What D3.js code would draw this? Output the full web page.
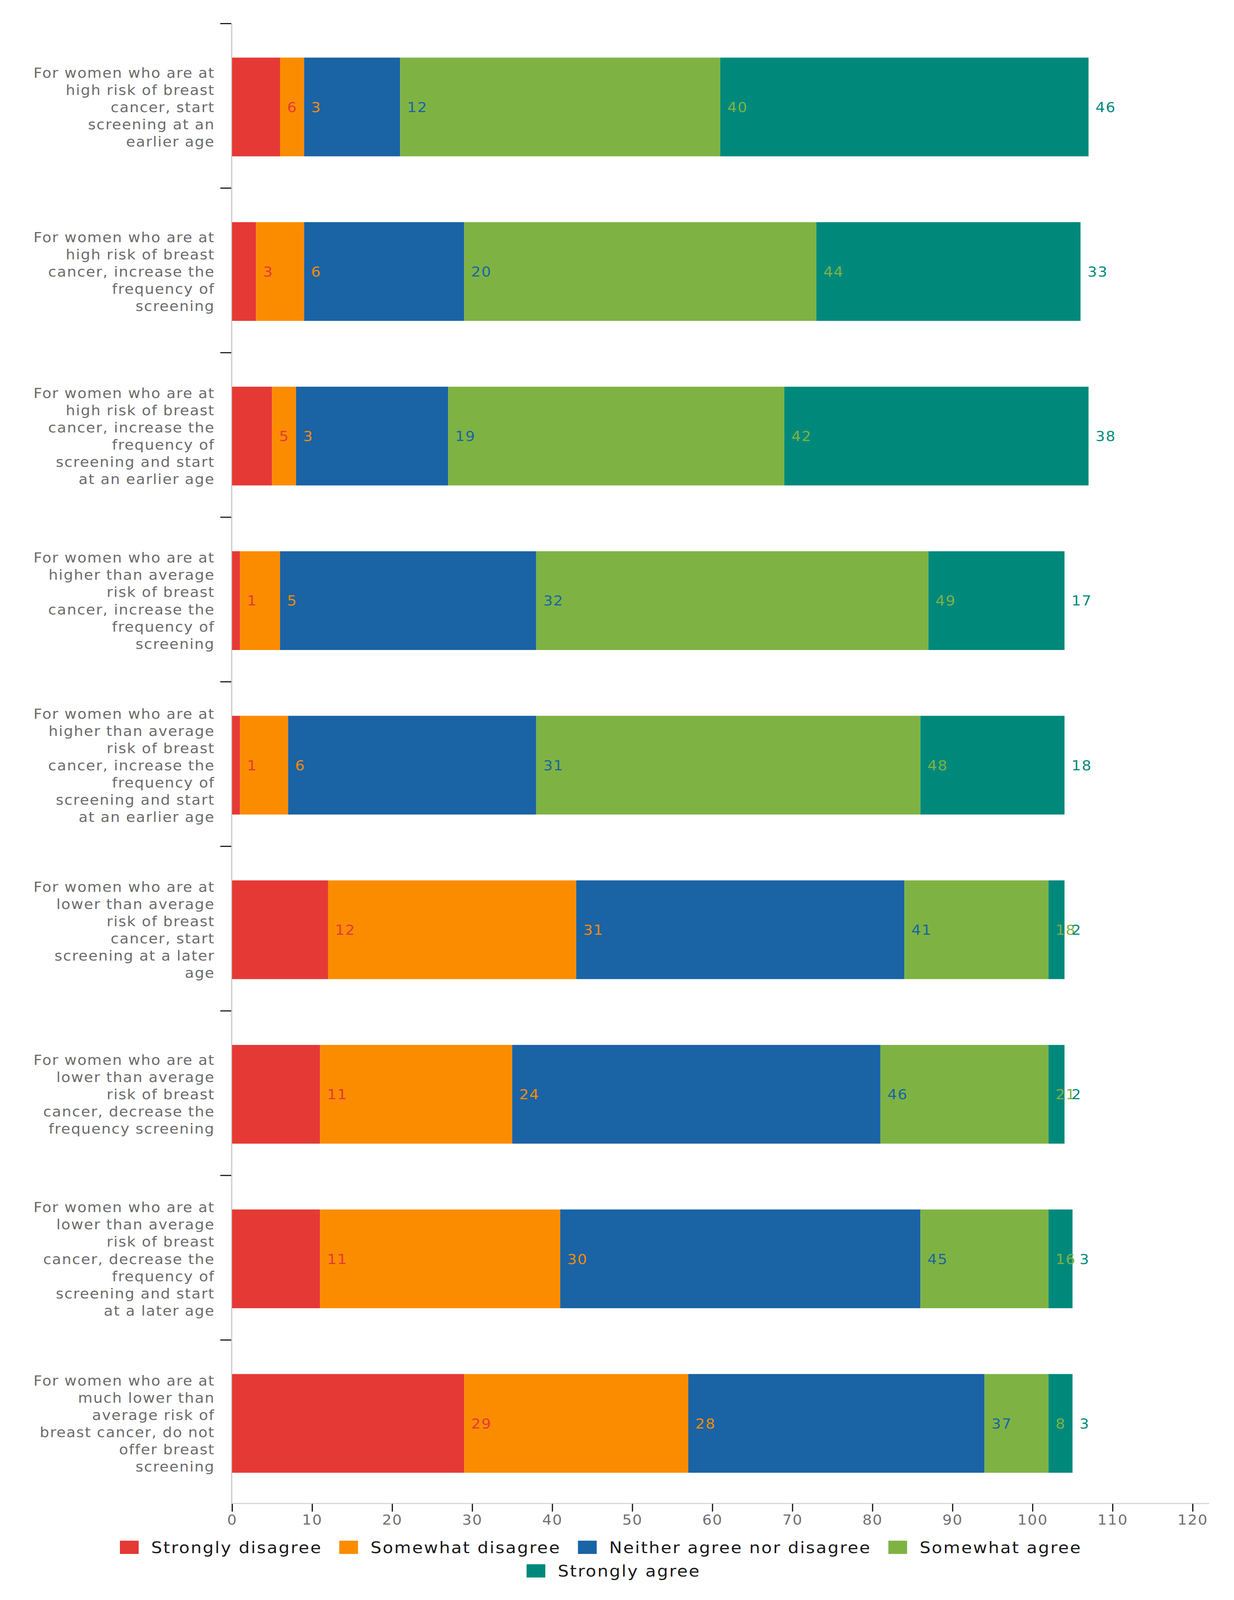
<!DOCTYPE html>
<html>
<head>
<meta charset="utf-8">
<script src="https://cdn.jsdelivr.net/npm/d3@7"></script>
<style>
  html, body { margin: 0; padding: 0; background: #fff; overflow: hidden; }
  svg { display: block; width: 100vw; height: 100vh; }
  text { font-family: "DejaVu Sans", sans-serif; }
</style>
</head>
<body>
<script>
// categories, one label per bar (lines split on "|")
var categories = [
    "For women who are at|high risk of breast|cancer, start|screening at an|earlier age",
    "For women who are at|high risk of breast|cancer, increase the|frequency of|screening",
    "For women who are at|high risk of breast|cancer, increase the|frequency of|screening and start|at an earlier age",
    "For women who are at|higher than average|risk of breast|cancer, increase the|frequency of|screening",
    "For women who are at|higher than average|risk of breast|cancer, increase the|frequency of|screening and start|at an earlier age",
    "For women who are at|lower than average|risk of breast|cancer, start|screening at a later|age",
    "For women who are at|lower than average|risk of breast|cancer, decrease the|frequency screening",
    "For women who are at|lower than average|risk of breast|cancer, decrease the|frequency of|screening and start|at a later age",
    "For women who are at|much lower than|average risk of|breast cancer, do not|offer breast|screening"
];

var seriesNames = ["Strongly disagree", "Somewhat disagree", "Neither agree nor disagree", "Somewhat agree", "Strongly agree"];
var seriesColors = ["#e53935", "#fb8c00", "#1a63a5", "#7eb343", "#00897b"];

var stronglyDisagree = [6, 3, 5, 1, 1, 12, 11, 11, 29];
var somewhatDisagree = [3, 6, 3, 5, 6, 31, 24, 30, 28];
var neither          = [12, 20, 19, 32, 31, 41, 46, 45, 37];
var somewhatAgree    = [40, 44, 42, 49, 48, 18, 21, 16, 8];
var stronglyAgree    = [46, 33, 38, 17, 18, 2, 2, 3, 3];

var xTicks = [0, 10, 20, 30, 40, 50, 60, 70, 80, 90, 100, 110, 120];

var W = 3159, H = 4342;
// the drawing is laid out on a 3159x4342 grid and stretched to the window
var svg = d3.select("body").append("svg")
    .attr("viewBox", "0 0 " + W + " " + H)
    .attr("preserveAspectRatio", "none");

var x = d3.scaleLinear().domain([0, 120]).range([594, 3053]);
var y = d3.scaleBand().domain(categories).range([64, 4083])
    .paddingInner(0.4).paddingOuter(0.2);
var barShift = 3;

// build rows for stacking
var series = [stronglyDisagree, somewhatDisagree, neither, somewhatAgree, stronglyAgree];
var rows = categories.map(function(c, i) {
    var r = {cat: c};
    seriesNames.forEach(function(s, j) { r[s] = series[j][i]; });
    return r;
});
var stack = d3.stack().keys(seriesNames)(rows);

// axis lines
svg.append("line")
    .attr("x1", x(0) - 3).attr("x2", 3095)
    .attr("y1", 4080).attr("y2", 4080)
    .attr("stroke", "#d4d4d8").attr("stroke-width", 3);
svg.append("line")
    .attr("x1", x(0) - 1).attr("x2", x(0) - 1)
    .attr("y1", 64).attr("y2", 4080)
    .attr("stroke", "#d4d4d8").attr("stroke-width", 4);

// left ticks at band boundaries
var step = y.step();
svg.append("g").selectAll("line")
    .data(categories)
    .enter().append("line")
    .attr("x1", 564).attr("x2", 592)
    .attr("y1", function(d) { return y(d) - step * 0.2; })
    .attr("y2", function(d) { return y(d) - step * 0.2; })
    .attr("stroke", "#111").attr("stroke-width", 3);

// bars
var layers = svg.append("g").selectAll("g")
    .data(stack)
    .enter().append("g")
    .attr("fill", function(d, i) { return seriesColors[i]; });

layers.selectAll("rect")
    .data(function(d) { return d; })
    .enter().append("rect")
    .attr("x", function(d) { return x(d[0]); })
    .attr("width", function(d) { return x(d[1]) - x(d[0]); })
    .attr("y", function(d) { return y(d.data.cat) + barShift; })
    .attr("height", y.bandwidth());

// value labels just past the end of each segment
stack.forEach(function(layer, i) {
    svg.append("g").selectAll("text")
        .data(layer)
        .enter().append("text")
        .attr("x", function(d) { return x(d[1]) + 18; })
        .attr("y", function(d) { return y(d.data.cat) + barShift + y.bandwidth() / 2; })
        .attr("dy", "0.36em")
        .attr("font-size", 38)
        .attr("letter-spacing", 2)
        .attr("fill", seriesColors[i])
        .text(function(d) { return d[1] - d[0]; });
});

// category labels
var lineH = 46.7;
categories.forEach(function(c) {
    var lines = c.split("|");
    var cy = y(c) + barShift + y.bandwidth() / 2;
    var t = svg.append("text")
        .attr("text-anchor", "end")
        .attr("font-size", 38)
        .attr("letter-spacing", 2)
        .attr("fill", "#6b6b6b");
    lines.forEach(function(l, k) {
        t.append("tspan")
            .attr("x", 550)
            .attr("y", cy + (k - (lines.length - 1) / 2) * lineH)
            .attr("dy", "0.36em")
            .text(l);
    });
});

// x axis
var xAxis = svg.append("g")
    .attr("transform", "translate(0,4081)")
    .call(d3.axisBottom(x).tickValues(xTicks).tickSize(21).tickPadding(0));
xAxis.select(".domain").remove();
xAxis.selectAll(".tick line").attr("stroke", "#111").attr("stroke-width", 3);
xAxis.selectAll(".tick text")
    .attr("y", 43)
    .attr("dy", "0.36em")
    .attr("font-size", 38)
    .attr("letter-spacing", 2)
    .attr("font-family", "DejaVu Sans, sans-serif")
    .attr("fill", "#707070");

// legend, two rows
var legendRows = [seriesNames.slice(0, 4), seriesNames.slice(4)];
var legendY = [4199, 4263];
var legendX0 = [307, 1348];
legendRows.forEach(function(names, r) {
    var cx = legendX0[r];
    names.forEach(function(n) {
        var idx = seriesNames.indexOf(n);
        svg.append("rect")
            .attr("x", cx).attr("y", legendY[r] - 18)
            .attr("width", 48).attr("height", 36)
            .attr("fill", seriesColors[idx]);
        var t = svg.append("text")
            .attr("x", cx + 80).attr("y", legendY[r])
            .attr("dy", "0.36em")
            .attr("font-size", 44)
            .attr("letter-spacing", 3)
            .attr("fill", "#1a1a1a")
            .text(n);
        cx += 80 + t.node().getComputedTextLength() + 44;
    });
});
</script>
</body>
</html>
